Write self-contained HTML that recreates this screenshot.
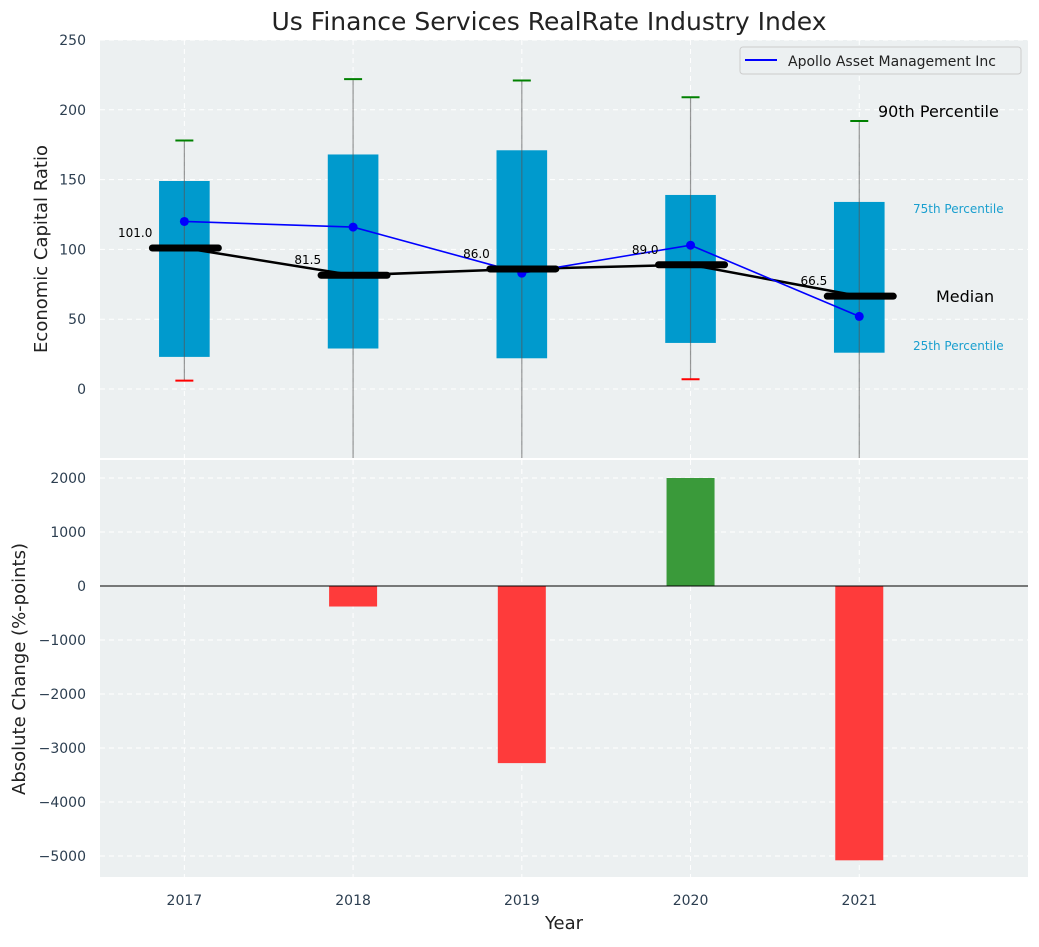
<!DOCTYPE html>
<html><head><meta charset="utf-8"><style>
body{margin:0;background:#fff;font-family:"Liberation Sans","DejaVu Sans",sans-serif}
svg text{font-family:"DejaVu Sans","Liberation Sans",sans-serif}
</style></head><body>
<svg id="c" width="1039" height="942"></svg>
<script>
const years=[2017,2018,2019,2020,2021];
const q1=[23,29,22,33,26];
const q3=[149,168,171,139,134];
const medians=[101,81.5,86,89,66.5];
const p90=[178,222,221,209,192];
const p10=[6,-80,-80,7,-80];
const apollo=[120,116,83,103,52];
const changes=[0,-380,-3280,2000,-5080];
const topTicks=[0,50,100,150,200,250];
const botTicks=[-5000,-4000,-3000,-2000,-1000,0,1000,2000];
const NS="http://www.w3.org/2000/svg";
const svg=document.getElementById('c');
function el(t,a,p){const e=document.createElementNS(NS,t);for(const k in a)e.setAttribute(k,a[k]);(p||svg).appendChild(e);return e;}
const L=100,R=1028;
const x=v=>L+(v-2016.5)/(5.5)*(R-L);
const yT=v=>389-(v)*1.396;
const yB=v=>586-v*0.054;
let t=el('text',{x:549,y:30,'text-anchor':'middle','font-size':25,fill:'#222'});t.textContent='Us Finance Services RealRate Industry Index';


let b=el('rect',{x:L,y:40,width:R-L,height:418,fill:'#ecf0f1'});


b=el('rect',{x:L,y:460,width:R-L,height:417,fill:'#ecf0f1'});


const gT=el('g',{});


topTicks.forEach(v=>{el('line',{x1:L,x2:R,y1:yT(v),y2:yT(v),stroke:'#fff','stroke-dasharray':'5,4','stroke-width':1},gT);
 const tt=el('text',{x:86,y:yT(v)+5,'text-anchor':'end','font-size':14,fill:'#2c3e50'});tt.textContent=v;
 
 });
const gB=el('g',{});


botTicks.forEach(v=>{el('line',{x1:L,x2:R,y1:yB(v),y2:yB(v),stroke:'#fff','stroke-dasharray':'5,4','stroke-width':1},gB);
 const tt=el('text',{x:86,y:yB(v)+5,'text-anchor':'end','font-size':14,fill:'#2c3e50'});tt.textContent=(v<0?'\u2212'+(-v):v);
 
 });
years.forEach(yr=>{[[40,458],[460,877]].forEach(r=>el('line',{x1:x(yr),x2:x(yr),y1:r[0],y2:r[1],stroke:'#fff','stroke-dasharray':'5,4'}));
 const tt=el('text',{x:x(yr),y:905,'text-anchor':'middle','font-size':14,fill:'#2c3e50'});tt.textContent=yr;
 
 });
const defs=el('defs',{});const cp=el('clipPath',{id:'ct'},defs);el('rect',{x:L,y:40,width:R-L,height:418},cp);
const topG=el('g',{'clip-path':'url(#ct)'});
const hw=0.15*(R-L)/5.5;
years.forEach((yr,i)=>{
 const r=el('rect',{x:x(yr)-hw,y:yT(q3[i]),width:2*hw,height:yT(q1[i])-yT(q3[i]),fill:'#009acd'},topG);
 
 
 const w=el('line',{x1:x(yr),x2:x(yr),y1:yT(p90[i]),y2:yT(p10[i]),stroke:'#555','stroke-opacity':0.6,'stroke-width':1.2},topG);
 
 
 const c1=el('line',{x1:x(yr)-9,x2:x(yr)+9,y1:yT(p90[i]),y2:yT(p90[i]),stroke:'green','stroke-width':2},topG);
 
 
 const c2=el('line',{x1:x(yr)-9,x2:x(yr)+9,y1:yT(p10[i]),y2:yT(p10[i]),stroke:'red','stroke-width':2},topG);
 
 
});
let ml=el('polyline',{points:years.map((yr,i)=>x(yr)+','+yT(medians[i])).join(' '),fill:'none',stroke:'#000','stroke-width':2.5},topG);


let al=el('polyline',{points:years.map((yr,i)=>x(yr)+','+yT(apollo[i])).join(' '),fill:'none',stroke:'#00f','stroke-width':1.6},topG);


years.forEach((yr,i)=>{
 const p=el('circle',{cx:x(yr),cy:yT(apollo[i]),r:4.5,fill:'#00f'},topG);
 
 
 const m=el('line',{x1:x(yr)-32,x2:x(yr)+34,y1:yT(medians[i]),y2:yT(medians[i]),stroke:'#000','stroke-width':7,'stroke-linecap':'round'},topG);
 
 
 const tt=el('text',{x:x(yr)-32,y:yT(medians[i])-11,'text-anchor':'end','font-size':12,fill:'#000'},topG);tt.textContent=medians[i].toFixed(1);
 
 
});
[[878,117,'90th Percentile',16,'#000'],[913,213,'75th Percentile',12,'#1a9fcf'],[936,302,'Median',16,'#000'],[913,350,'25th Percentile',12,'#1a9fcf']].forEach(a=>{
 const tt=el('text',{x:a[0],y:a[1],'font-size':a[3],fill:a[4]});tt.textContent=a[2];
 
 });
const lg=el('g',{});


el('rect',{x:740,y:47,width:281,height:27,rx:3,fill:'#ecf0f1',stroke:'#ccc'},lg);
el('line',{x1:745,x2:777,y1:60,y2:60,stroke:'#00f','stroke-width':2},lg);
let lt=el('text',{x:788,y:66,'font-size':14,fill:'#222'},lg);lt.textContent='Apollo Asset Management Inc';
years.forEach((yr,i)=>{
 const v=changes[i];if(v===0)return;
 const r=el('rect',{x:x(yr)-24,y:Math.min(yB(v),yB(0)),width:48,height:Math.abs(yB(v)-yB(0)),fill:v>0?'#3a9a3a':'#fe3b3b'});
 
 
});
let zl=el('line',{x1:L,x2:R,y1:yB(0),y2:yB(0),stroke:'#000','stroke-width':1});


t=el('text',{x:47,y:249,'text-anchor':'middle','font-size':18,fill:'#222',transform:'rotate(-90 47 249)'});t.textContent='Economic Capital Ratio';


t=el('text',{x:25,y:669,'text-anchor':'middle','font-size':18,fill:'#222',transform:'rotate(-90 25 669)'});t.textContent='Absolute Change (%-points)';


t=el('text',{x:564,y:929,'text-anchor':'middle','font-size':18,fill:'#222'});t.textContent='Year';


</script></body></html>
